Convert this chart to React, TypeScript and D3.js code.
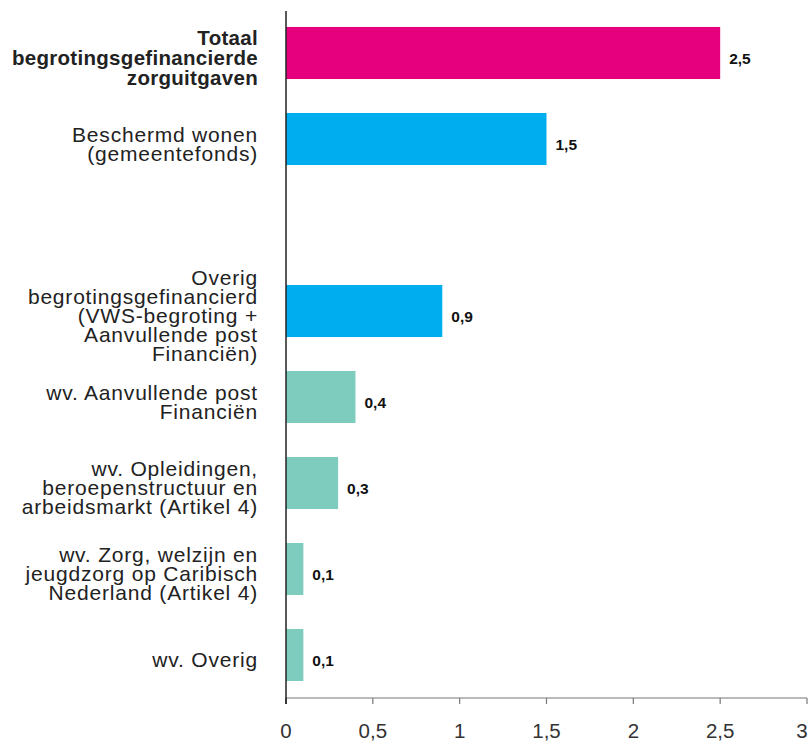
import React from "react";
import * as d3 from "d3";

const categories: string[] = [
  "Totaal\nbegrotingsgefinancierde\nzorguitgaven",
  "Beschermd wonen\n(gemeentefonds)",
  "",
  "Overig\nbegrotingsgefinancierd\n(VWS-begroting +\nAanvullende post\nFinanciën)",
  "wv. Aanvullende post\nFinanciën",
  "wv. Opleidingen,\nberoepenstructuur en\narbeidsmarkt (Artikel 4)",
  "wv. Zorg, welzijn en\njeugdzorg op Caribisch\nNederland (Artikel 4)",
  "wv. Overig",
];
const values: (number | null)[] = [2.5, 1.5, null, 0.9, 0.4, 0.3, 0.1, 0.1];
const groups: string[] = ["totaal", "hoofd", "leeg", "hoofd", "wv", "wv", "wv", "wv"];
const valueLabels: string[] = ["2,5", "1,5", "", "0,9", "0,4", "0,3", "0,1", "0,1"];
const tickValues: number[] = [0, 0.5, 1, 1.5, 2, 2.5, 3];
const tickLabels: string[] = ["0", "0,5", "1", "1,5", "2", "2,5", "3"];

const colorOf: Record<string, string> = {
  totaal: "#E6007E",
  hoofd: "#00AEEF",
  wv: "#7ECCBE",
  leeg: "none",
};

const W = 811;
const H = 742;

export default function App() {
  const x = d3.scaleLinear().domain([0, 3]).range([286, 807]);
  const y = d3
    .scaleBand<number>()
    .domain(d3.range(categories.length))
    .range([10, 698])
    .paddingInner(0.395)
    .paddingOuter(0.1975);

  const font = "'Liberation Sans', Arial, Helvetica, sans-serif";

  return (
    <svg
      width={W}
      height={H}
      style={{ position: "absolute", left: 0, top: 0, display: "block", background: "#fff" }}
      fontFamily={font}
    >
      {/* bars */}
      {values.map((v, i) =>
        v == null ? null : (
          <rect
            key={"b" + i}
            x={x(0)}
            y={y(i)!}
            width={x(v) - x(0)}
            height={y.bandwidth()}
            fill={colorOf[groups[i]]}
          />
        )
      )}
      {/* value labels */}
      {values.map((v, i) =>
        v == null ? null : (
          <text
            key={"v" + i}
            x={x(v) + 9}
            y={y(i)! + y.bandwidth() / 2 + 10.5}
            fontSize={15.5}
            fontWeight="bold"
            fill="#111"
          >
            {valueLabels[i]}
          </text>
        )
      )}
      {/* category labels */}
      {categories.map((c, i) => {
        if (!c) return null;
        const lines = c.split("\n");
        const bold = groups[i] === "totaal";
        const lh = bold ? 20 : 19;
        const cy = y(i)! + y.bandwidth() / 2;
        return (
          <text
            key={"c" + i}
            textAnchor="end"
            fontSize={bold ? 20.5 : 21}
            fontWeight={bold ? "bold" : "normal"}
            letterSpacing={bold ? 0.3 : 0.8}
            fill="#222"
          >
            {lines.map((l, j) => (
              <tspan key={j} x={258} y={cy + 12 + (j - (lines.length - 1) / 2) * lh}>
                {l}
              </tspan>
            ))}
          </text>
        );
      })}
      {/* x axis */}
      <line x1={x(0)} x2={x(3)} y1={698} y2={698} stroke="#777" strokeWidth={1.2} />
      {tickValues.map((t, i) => (
        <g key={"t" + i}>
          <line x1={x(t)} x2={x(t)} y1={698} y2={704} stroke={i === 0 ? "#222" : "#777"} strokeWidth={1.2} />
          <text
            x={i === tickValues.length - 1 ? Math.min(x(t), W - 9) : x(t)}
            y={738}
            fontSize={20.5}
            textAnchor="middle"
            fill="#333"
          >
            {tickLabels[i]}
          </text>
        </g>
      ))}
      {/* y axis */}
      <line x1={x(0)} x2={x(0)} y1={11} y2={704} stroke="#222" strokeWidth={1.5} />
    </svg>
  );
}
